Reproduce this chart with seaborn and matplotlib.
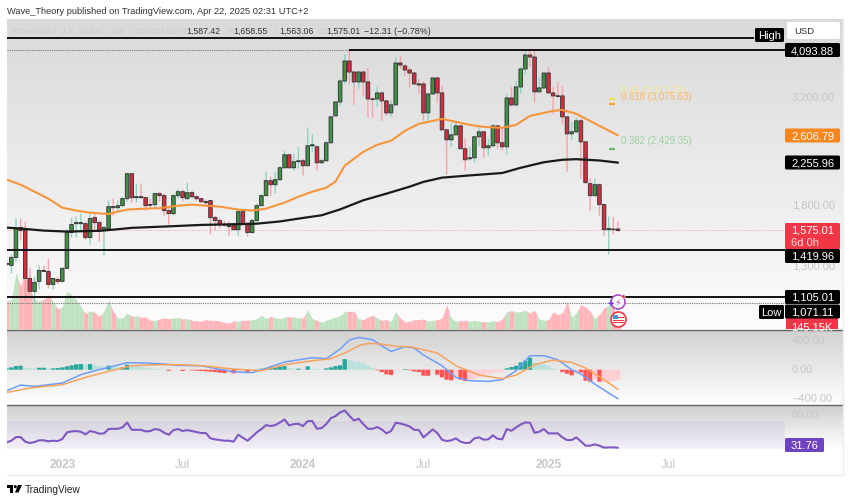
import matplotlib
matplotlib.use("Agg")
import matplotlib.pyplot as plt
from matplotlib.patches import Circle, FancyBboxPatch, Polygon, Rectangle
import numpy as np
import seaborn as sns

# weekly candles, week 0 is the first week of 2023
weeks = np.arange(-12, 121)
opens = [1323,1309,1365,1599,1574,1222,1141,1203,1275,1268,1184,1215,
         1203,1289,1558,1633,1633,1633,1517,1686,1642,1574,1591,1787,1777,1796,1864,2127,1874,1884,1874,1806,
         1806,1914,1894,1750,1722,1894,1934,1864,1924,1884,1864,1835,1845,1686,1660,1625,1616,1616,1582,1740,
         1625,1558,1660,1796,1894,2050,2007,2061,2195,2351,2195,2266,2278,2219,2466,2453,2254,2278,2505,2889,
         3110,3475,3863,3644,3457,3644,3457,3160,3160,3262,3127,2935,3062,3822,3762,3683,3625,3421,3421,2935,
         3245,3531,3262,2683,2545,2613,2740,2427,2302,2314,2586,2655,2440,2466,2740,2505,2453,3177,3062,3367,
         3703,3987,3945,3280,3350,3625,3262,3211,3211,2874,2627,2655,2814,2518,2018,1894,2007,1806,1582,1587,1587.42]
highs = [1344,1387,1677,1677,1651,1289,1235,1309,1309,1358,1222,1235,
         1295,1591,1686,1695,1722,1651,1740,1722,1660,1616,1845,1864,1845,1884,2138,2127,2018,2018,1884,1864,
         1924,1934,1914,1796,1904,1965,1955,2029,1945,1894,1874,1854,1854,1704,1677,1660,1651,1633,1750,1759,
         1642,1677,1815,1904,2150,2094,2150,2219,2402,2363,2363,2453,2302,2711,2627,2466,2302,2532,2889,3110,
         3512,4008,4116,3664,3664,3664,3722,3194,3367,3280,3143,3143,3945,3966,3802,3742,3644,3512,3475,3245,
         3531,3550,3385,2697,2770,2799,2755,2559,2453,2600,2726,2669,2559,2770,2755,2726,3245,3367,3475,3742,
         4072,4072,4072,3550,3625,3742,3367,3457,3385,2874,2799,2858,2843,2518,2072,2072,2018,1815,1695,1695,1658.55]
lows = [1302,1255,1337,1493,1083,1129,1077,1153,1262,1160,1153,1184,
        1197,1289,1517,1517,1566,1501,1462,1566,1485,1380,1591,1704,1740,1787,1835,1825,1825,1864,1750,1768,
        1768,1835,1704,1625,1704,1864,1835,1854,1864,1845,1825,1806,1541,1574,1591,1608,1533,1574,1533,1616,
        1525,1549,1651,1796,1894,1894,1914,2050,2184,2184,2161,2184,2105,2219,2389,2161,2242,2266,2505,2874,
        3046,3421,3421,3062,3332,3211,2858,2858,3030,2814,2889,2874,3062,3703,3568,3367,3403,3245,2814,2814,
        3228,3094,2669,2116,2453,2600,2427,2161,2278,2254,2466,2314,2339,2453,2427,2402,2351,3030,3030,3245,
        3606,3742,3094,3280,3332,3245,2920,3177,2770,2150,2545,2641,2072,2018,1750,1884,1704,1533,1387,1541,1563.06]
closes = [1316,1365,1591,1574,1222,1141,1197,1275,1268,1184,1222,1203,
          1289,1558,1625,1642,1642,1517,1677,1642,1574,1599,1787,1777,1796,1864,2127,1874,1884,1874,1796,1801,
          1914,1894,1750,1722,1894,1934,1874,1924,1884,1864,1835,1825,1686,1660,1625,1620,1608,1582,1740,1625,
          1558,1660,1796,1894,2050,2007,2061,2195,2351,2195,2266,2278,2219,2466,2479,2254,2278,2505,2874,3110,
          3475,3863,3644,3457,3644,3457,3160,3150,3262,3127,2935,3062,3822,3782,3683,3625,3421,3403,2935,3245,
          3531,3262,2683,2545,2613,2740,2427,2290,2314,2586,2655,2440,2466,2740,2505,2453,3177,3062,3367,3703,
          3987,3945,3280,3350,3625,3262,3211,3205,2874,2627,2655,2814,2518,2029,1894,2007,1806,1582,1591,1582,1575.01]

volume_k = [1384,1467,2800,2134,2967,2000,1467,1384,1467,1717,1384,1000,
            1100,1884,1717,1467,1134,767,917,834,634,884,1434,884,550,550,800,634,667,584,600,434,
            417,500,550,517,550,584,500,517,434,417,384,467,434,434,400,334,300,400,384,434,
            434,467,517,684,517,634,550,517,600,617,600,550,550,967,517,434,334,434,517,600,
            667,867,884,884,517,467,600,700,550,434,467,384,867,550,350,384,467,467,500,400,
            434,467,550,1217,550,384,417,434,384,434,384,367,350,417,367,500,867,917,850,867,
            934,800,934,500,434,467,850,717,800,1384,600,800,1217,1100,884,517,717,1050,1217,1217,145]

# moving averages, read at the bends of each curve
ma50_weeks = [-12,-9,-6,-3,0,3,6,10,12,14,18,21,25,28,31,34,38,41,44,48,51,54,57,59,61,65,68,71,74,77,78,82,88,91,95,98,101,106,108,111,116,120]
ma50 = [2061,2007,1934,1864,1777,1750,1731,1718,1740,1759,1768,1772,1796,1806,1796,1787,1759,1750,1768,1825,1884,1934,1975,2040,2219,2389,2479,2532,2669,2770,2784,2843,2755,2726,2711,2755,2889,2966,2982,2920,2740,2606.79]
ma200_weeks = [-12,-9,-4,1,8,11,15,22,30,37,42,47,51,56,60,65,70,75,78,82,88,95,99,104,108,111,116,120]
ma200 = [1599,1591,1574,1566,1572,1582,1597,1608,1622,1628,1633,1652,1677,1707,1761,1848,1914,1986,2037,2083,2108,2135,2195,2260,2290,2297,2281,2255.96]

macd_weeks = [-12,-9,-6,-3,0,4,7,10,14,18,21,25,30,33,37,41,44,48,54,57,60,62,64,67,69,71,74,76,78,82,85,88,92,95,98,101,104,107,110,112,115,118,120]
macd = [-290,-212,-230,-207,-184,-69,-14,32,97,92,83,60,55,18,-28,-41,18,106,166,152,285,409,446,414,331,253,317,299,202,55,-106,-152,-161,-138,-14,193,193,138,0,-60,-198,-322,-400]
signal_weeks = [-12,-6,0,5,10,15,20,26,31,37,43,48,54,58,61,64,66,69,72,75,78,81,85,90,95,98,102,106,110,113,117,120]
signal = [-313,-244,-207,-106,-23,55,69,69,51,9,-14,69,124,152,230,331,363,354,322,317,276,230,55,-74,-124,-74,69,133,101,23,-138,-271]
hist = [18,32,50,55,27,23,18,27,27,18,18,23,
        32,46,60,74,78,74,78,64,55,41,55,46,32,32,69,55,46,41,27,18,
        14,9,5,-14,-5,-5,-18,-5,-9,-14,-18,-23,-27,-32,-41,-46,-41,-50,-23,-9,
        -41,-5,5,14,23,32,32,41,50,23,14,14,9,46,14,9,5,18,32,50,
        60,147,129,115,110,87,55,27,-9,-32,-64,-74,-14,-5,9,-9,-23,-32,-82,-83,
        -14,-69,-106,-138,-147,-83,-138,-156,-129,-129,-106,-83,-60,-46,-37,-28,18,37,55,101,
        124,166,101,83,74,55,18,9,-32,-55,-78,-28,-37,-152,-166,-129,-166,-166,-166,-152,-138]

rsi = [39.4,41.7,46.8,46.8,40.3,38.4,39.8,42.2,42.2,40.8,41.7,41.2,
       44,53.4,54.8,55.3,54.3,50.6,55.3,53.9,51.5,52,58.1,58.5,58.5,60.4,67.4,57.1,57.1,57.1,54.8,55.3,
       58.1,57.1,52.9,50.1,56.7,58.1,55.3,56.7,55.3,53.9,52.5,52.5,45,43.6,42.6,41.7,41.7,40.3,50.1,45.9,
       41.7,47.3,53.4,58.1,63.7,62.3,63.7,67.4,71.6,63.2,65.1,65.6,62.3,69.3,69.3,58.5,59.5,65.1,73.5,76.3,
       81.5,84.3,76.8,70.2,72.6,65.1,58.5,58.5,60.9,57.6,52,55.3,67,66,64.1,61.8,57.1,56.7,46.4,52,
       57.6,52.5,43.1,41.2,42.2,45,40.3,38.4,38.9,45,46.4,43.1,43.6,49.2,44.5,43.6,58.1,55.7,60.4,64.6,
       67.4,67,52.9,54.3,58.1,52,52,52,46.4,42.6,42.6,46.4,40.8,34.7,34.7,36.5,34.7,31.9,32.3,32.3,31.76]

time_ticks = [0, 26, 52, 78, 105, 131]
time_labels = ["2023", "Jul", "2024", "Jul", "2025", "Jul"]

high_level = 4374
top_level = 4093.88
support_levels = [1419.96, 1105.01]
low_level = 1071.11
last_close = 1575.01
fib_levels = [3163.20, 3075.63, 2429.35]
fib_texts = ["0.65 (3,163.20)", "0.618 (3,075.63)", "0.382 (2,429.35)"]
fib_colors = ["#f5e04a", "#f7a530", "#66bb6a"]

assert len(opens) == len(highs) == len(lows) == len(closes) == len(weeks)
assert len(volume_k) == len(hist) == len(rsi) == len(weeks)

sns.set_theme(style="white")
plt.rcParams["font.family"] = ["Liberation Sans", "DejaVu Sans"]

W, H = 850, 502
fig = plt.figure(figsize=(W / 100, H / 100), dpi=100, facecolor="white")

X_LEFT, X_RIGHT = -11.94, 168.6
LINE_END = 156
GRAY_TEXT = "#c4c6cc"


def pane(top, bottom, zorder=1):
    ax = fig.add_axes([7 / W, 1 - bottom / H, 836 / W, (bottom - top) / H], zorder=zorder)
    ax.patch.set_alpha(0)
    for s in ax.spines.values():
        s.set_visible(False)
    ax.set_xticks([])
    ax.set_yticks([])
    ax.set_xlim(X_LEFT, X_RIGHT)
    return ax


def gradient(top, bottom, c_top, c_bottom):
    ax = pane(top, bottom, zorder=0)
    ramp = np.linspace(c_top, c_bottom, 64).reshape(-1, 1)
    ax.imshow(ramp, cmap="gray", vmin=0, vmax=1, aspect="auto", extent=(X_LEFT, X_RIGHT, 0, 1))
    ax.set_xlim(X_LEFT, X_RIGHT)
    ax.set_ylim(0, 1)


gradient(20, 330, 0.85, 0.985)
gradient(331, 406, 0.82, 0.995)
gradient(406, 450, 0.81, 1.0)

# volume sits behind the candles
ax_vol = pane(20, 330, zorder=1)
ax_vol.set_ylim(0, 15500)
vol = np.array(volume_k, dtype=float)
for i, k in enumerate(weeks):
    left = (vol[i] + vol[max(i - 1, 0)]) / 2
    right = (vol[i] + vol[min(i + 1, len(vol) - 1)]) / 2
    color = "#bfe2c0" if closes[i] >= opens[i] else "#ffb5ba"
    ax_vol.fill_between([k - 0.5, k, k + 0.5], 0, [left, vol[i], right], color=color, lw=0)

# price pane
ax = pane(20, 330, zorder=2)
ax.set_yscale("log")
ax.set_ylim(935, 4824)
ax.minorticks_off()
ax.set_xticks([])
ax.set_yticks([])

ax.hlines(high_level, X_LEFT, 149.4, color="#111111", lw=1.4, zorder=5)
ax.hlines(top_level, 62, LINE_END, color="#111111", lw=1.4, zorder=5)
ax.hlines(top_level, X_LEFT, 62, color="#777777", lw=0.8, ls=(0, (1, 1)), zorder=5)
ax.hlines(support_levels, X_LEFT, LINE_END, color="#111111", lw=1.4, zorder=5)
ax.hlines(low_level, X_LEFT, LINE_END, color="#777777", lw=0.8, ls=(0, (1, 1)), zorder=5)
ax.hlines(last_close, X_LEFT, LINE_END, color="#f4a0a6", lw=0.7, ls=(0, (1, 1.5)), zorder=1)

up = np.array(closes) >= np.array(opens)
wick_colors = ["#8fd3c4" if u else "#f5a3ab" for u in up]
wicks = ax.vlines(weeks, lows, highs, colors=wick_colors, lw=1.0, zorder=2)
wicks.set_snap(False)
body_low = np.minimum(opens, closes)
body_high = np.maximum(opens, closes)
bodies = ax.bar(weeks, body_high - body_low, bottom=body_low, width=0.76,
                color=["#3c9443" if u else "#dd2a3e" for u in up],
                edgecolor="#3a3a3a", linewidth=0.7, zorder=3)
for b in bodies:
    b.set_snap(False)

sns.lineplot(x=ma50_weeks, y=ma50, ax=ax, color="#f7953a", lw=1.5, zorder=4, errorbar=None)
sns.lineplot(x=ma200_weeks, y=ma200, ax=ax, color="#1a1a1a", lw=1.6, zorder=4, errorbar=None)
ax.set_xlim(X_LEFT, X_RIGHT)
ax.set_ylim(935, 4824)
ax.set_xlabel("")
ax.set_ylabel("")

# fib retracement stubs with their labels
for level, color in zip(fib_levels, fib_colors):
    ax.hlines(level, 118, 119.4, color=color, lw=1.6, zorder=5)
ax.text(120.6, fib_levels[0] * 1.047, fib_texts[0], color="#f8e79a", fontsize=6.9, va="center")
ax.text(120.6, fib_levels[1] * 1.042, fib_texts[1], color="#f6b56a", fontsize=6.9, va="center")
ax.text(120.6, fib_levels[2] * 1.044, fib_texts[2], color="#9fd2a1", fontsize=6.9, va="center")

# macd pane
ax_macd = pane(331, 406, zorder=2)
ax_macd.set_ylim(-487, 548)
hist_colors = []
for i, v in enumerate(hist):
    rising = i == 0 or v >= hist[i - 1]
    if v >= 0:
        hist_colors.append("#26a69a" if rising else "#b7e1dc")
    else:
        hist_colors.append("#ffcdd2" if rising else "#ff5252")
hist_bars = ax_macd.bar(weeks, hist, width=0.92, color=hist_colors, lw=0)
for b in hist_bars:
    b.set_snap(False)
sns.lineplot(x=macd_weeks, y=macd, ax=ax_macd, color="#6f9dfb", lw=1.1, errorbar=None)
sns.lineplot(x=signal_weeks, y=signal, ax=ax_macd, color="#f7a35c", lw=1.1, errorbar=None)
ax_macd.set_xlim(X_LEFT, X_RIGHT)
ax_macd.set_xlabel("")
ax_macd.set_ylabel("")

# rsi pane
ax_rsi = pane(406, 450, zorder=2)
ax_rsi.set_ylim(30, 92)
ax_rsi.axhspan(30, 70, xmin=0, xmax=(156 - X_LEFT) / (X_RIGHT - X_LEFT), color="#7e57c2", alpha=0.09, lw=0)
sns.lineplot(x=weeks, y=rsi, ax=ax_rsi, color="#7e57c2", lw=1.5, errorbar=None)
ax_rsi.set_xlim(X_LEFT, X_RIGHT)
ax_rsi.set_xlabel("")
ax_rsi.set_ylabel("")

# time scale
ax_time = pane(450, 476, zorder=2)
ax_time.set_ylim(0, 1)
for k, lab in zip(time_ticks, time_labels):
    ax_time.text(k, 0.42, lab, color=GRAY_TEXT, fontsize=8.5, ha="center", va="center",
                 fontweight="bold" if lab.isdigit() else "normal")

# price scale labels and everything that lives in pixel space
ov = fig.add_axes([0, 0, 1, 1], zorder=6)
ov.patch.set_alpha(0)
ov.axis("off")
ov.set_xlim(0, W)
ov.set_ylim(H, 0)

ov.plot([7, 843], [330.5, 330.5], color="#666666", lw=1)
ov.plot([7, 843], [406, 406], color="#666666", lw=1)
ov.plot([842.8, 842.8], [20, 476], color="#eeeeee", lw=1)
ov.plot([7, 843], [476, 476], color="#eeeeee", lw=1)

for y, lab in [(97, "3,200.00"), (205.5, "1,800.00"), (267, "1,300.00"),
               (341.5, "400.00"), (370.5, "0.00"), (399.5, "\u2212400.00"), (415, "80.00")]:
    ov.text(792, y, lab, color=GRAY_TEXT, fontsize=8, va="center")


def tag(y, text, fc="black", tc="white", x0=785, x1=840, h=14):
    ov.add_patch(FancyBboxPatch((x0 + 1, y - h / 2 + 1), x1 - x0 - 2, h - 2,
                                boxstyle="round,pad=1,rounding_size=1.5", fc=fc, ec="none", zorder=3))
    return ov.text(x0 + 6, y, text, color=tc, fontsize=8, va="center", zorder=4)


tag(51, "4,093.88")
tag(136.5, "2,606.79", fc="#f7861d")
tag(163.5, "2,255.96")
tag(237, "", fc="#f23645", h=26)
ov.text(791, 231, "1,575.01", color="white", fontsize=8, va="center", zorder=4)
ov.text(791, 243, "6d 0h", color="#ffd5d8", fontsize=8, va="center", zorder=4)
tag(257, "1,419.96")
ov.add_patch(Rectangle((786, 318), 52, 12, fc="#f23645", ec="none", zorder=3))
vol_label = ov.text(791, 328, "145.15K", color="white", fontsize=8, va="center", zorder=4)
vol_label.set_clip_path(Rectangle((786, 318), 52, 12, transform=ov.transData))
tag(298, "1,105.01")
tag(312.5, "1,071.11")
tag(446, "31.76", fc="#6f42c1", x1=824)

# High / Low flags
for (x0, x1, y, lab) in [(755, 784, 36, "High"), (759, 784, 313, "Low")]:
    ov.add_patch(FancyBboxPatch((x0 + 1, y - 6), x1 - x0 - 2, 12,
                                boxstyle="round,pad=1,rounding_size=1.5", fc="black", ec="none", zorder=3))
    ov.text((x0 + x1) / 2, y, lab, color="white", fontsize=8, ha="center", va="center", zorder=4)

ov.add_patch(FancyBboxPatch((788, 24), 51, 15, boxstyle="round,pad=1,rounding_size=2", fc="white", ec="none"))
ov.text(794, 32, "USD", color="#333333", fontsize=6.8, va="center")

# header texts
ov.text(7, 11.5, "Wave_Theory published on TradingView.com, Apr 22, 2025 02:31 UTC+2",
        color="#333333", fontsize=6.7, va="center")
ov.text(13, 31, "Ethereum / U.S. Dollar \u00b7 1W \u00b7 COINBASE", color="#c9ccd3", fontsize=6.4, va="center")
for x, letter, value in [(180, "O", "1,587.42"), (227, "H", "1,658.55"), (273, "L", "1,563.06"), (320, "C", "1,575.01")]:
    ov.text(x, 31, letter, color="#c9ccd3", fontsize=6.3, va="center")
    ov.text(x + 6.5, 31, value, color="#333333", fontsize=6.3, va="center")
ov.text(364, 31, "\u221212.31 (\u22120.78%)", color="#333333", fontsize=6.4, va="center")

# event icons
ov.add_patch(Circle((618, 303), 7, fc="white", ec="#a64fc9", lw=1.2, zorder=5))
ov.text(618, 303, "\u26a1", color="#9c4fd0", fontsize=7, ha="center", va="center",
        family="DejaVu Sans", zorder=6)
ov.add_patch(Circle((623.5, 297.5), 1.8, fc="#f23645", ec="white", lw=0.4, zorder=6))
ov.text(611, 305, "\u2726", color="#7a3fe0", fontsize=7, ha="center", va="center", family="DejaVu Sans", zorder=6)
ov.add_patch(Circle((618.5, 320.5), 7.5, fc="white", ec="#f23645", lw=1.2, zorder=5))
for y in (318, 320.5, 323):
    ov.add_patch(Rectangle((613, y), 11, 1.1, fc="#f23645", ec="none", zorder=6))
ov.add_patch(Rectangle((613, 315.5), 5.5, 4.5, fc="#4a8fe0", ec="none", zorder=7))

# footer logo mark
ov.add_patch(Polygon([(7, 486), (13.5, 486), (13.5, 493.5), (10.5, 493.5), (10.5, 489), (7, 489)], fc="black", ec="none"))
ov.add_patch(Circle((15.3, 487.6), 1.5, fc="black", ec="none"))
ov.add_patch(Polygon([(18, 486), (22, 486), (18.5, 493.5), (15, 493.5)], fc="black", ec="none"))
ov.text(24.7, 489.7, "TradingView", color="#222222", fontsize=7.3, va="center")

fig.savefig("out.png", dpi=100)
